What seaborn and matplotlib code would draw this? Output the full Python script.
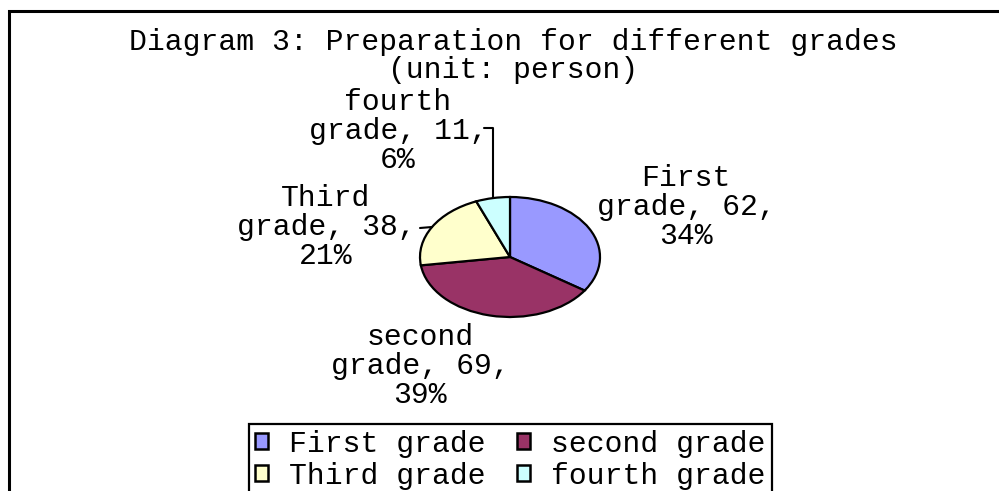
import numpy as np
import seaborn as sns
import matplotlib.pyplot as plt
from matplotlib.patches import Rectangle

sns.set_theme(style="white")
plt.rcParams['font.family'] = ['Liberation Mono', 'DejaVu Sans Mono']
plt.rcParams['text.color'] = 'black'

# data
grades = ['First grade', 'second grade', 'Third grade', 'fourth grade']
counts = [62, 69, 38, 11]
percents = [34, 39, 21, 6]
colors = ['#9999FF', '#993366', '#FFFFCC', '#CCFFFF']

W, H = 999, 491
FS = 21.4

fig = plt.figure(figsize=(W / 100, H / 100), dpi=100)

# pie axes: centre (510, 257) px, radii 90 x 60 px
cx, cy, rx, ry = 510, 257, 90, 60
ax = fig.add_axes([(cx - 1.25 * rx) / W, (H - cy - 1.25 * ry) / H,
                   2.5 * rx / W, 2.5 * ry / H])
wedges, _ = ax.pie(counts, colors=colors, startangle=90, counterclock=False,
                   wedgeprops=dict(edgecolor='black', linewidth=1.6))
ax.set_aspect('auto')
ax.set_xlim(-1.25, 1.25)
ax.set_ylim(-1.25, 1.25)

# label centres in pixels from top-left, and leader end (None = no leader)
label_pos = [(686, 207), (420, 366), (326, 227), (398, 131)]
leader_txt = [None, None, (420, 228), (484, 128)]

for i, w in enumerate(wedges):
    txt = f"{grades[i].split()[0]}\ngrade, {counts[i]},\n{percents[i]}%"
    px, py = label_pos[i]
    fig.text(px / W, 1 - py / H, txt, ha='center', va='center',
             multialignment='center', fontsize=FS, linespacing=1.03)
    if leader_txt[i] is not None:
        theta = np.deg2rad((w.theta1 + w.theta2) / 2)
        anchor = (np.cos(theta), np.sin(theta))
        lx, ly = leader_txt[i]
        style = "angle,angleA=0,angleB=90,rad=0" if i == 3 else "arc3"
        ax.annotate('', xy=anchor, xycoords='data',
                    xytext=(lx / W, 1 - ly / H), textcoords='figure fraction',
                    arrowprops=dict(arrowstyle='-', color='black', lw=1.5,
                                    shrinkA=0, shrinkB=0, connectionstyle=style),
                    annotation_clip=False)

fig.text(513 / W, 1 - 56 / H,
         "Diagram 3: Preparation for different grades\n(unit: person)",
         ha='center', va='center', fontsize=FS, linespacing=1.0)

# legend fills row by row in the original, matplotlib fills by column
order = [0, 2, 1, 3]
leg = fig.legend([wedges[k] for k in order], [grades[k] for k in order],
                 ncol=2, loc='upper left',
                 bbox_to_anchor=(249 / W, 1 - 424 / H), fontsize=FS,
                 frameon=True, fancybox=False, edgecolor='black',
                 handlelength=0.45, handleheight=0.45, handletextpad=0.7,
                 columnspacing=1.05, borderpad=0.2, labelspacing=0.12,
                 borderaxespad=0)
leg.get_frame().set_linewidth(1.6)
leg.get_frame().set_alpha(1)
for p in leg.get_patches():
    p.set_linewidth(1.8)

# outer chart border (runs off right and bottom edges)
fig.patches.append(Rectangle((9 / W, -0.1), 1.2, 1.1 - 11 / H,
                             transform=fig.transFigure, fill=False,
                             edgecolor='black', linewidth=2.2))

fig.savefig('out.png', dpi=100)
